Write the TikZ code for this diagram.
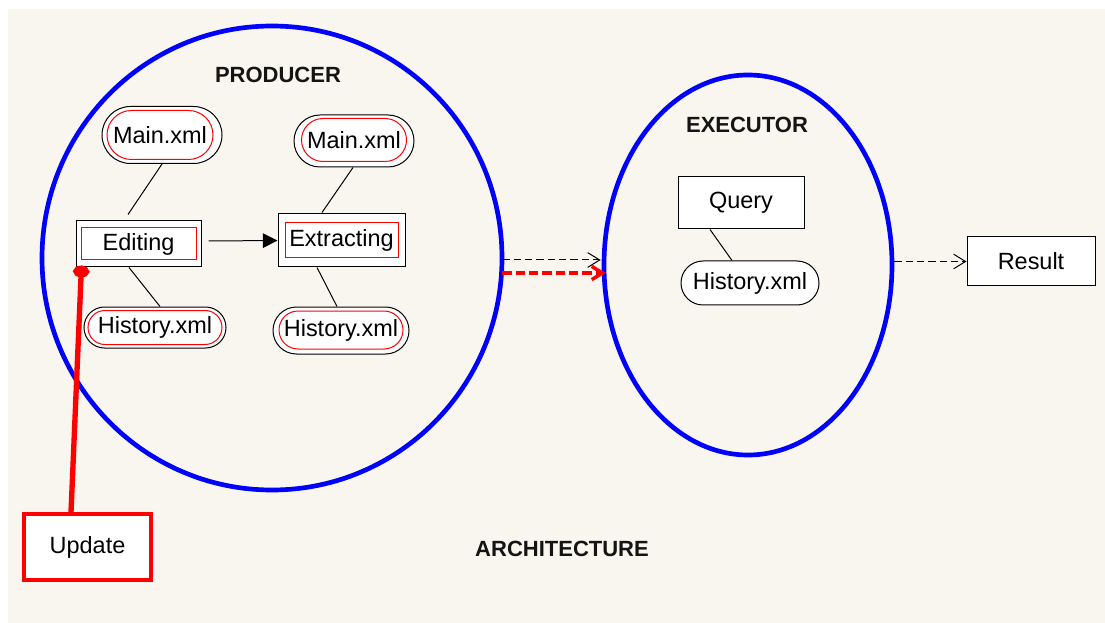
\documentclass[tikz,border=0pt]{standalone}
\usepackage{fontspec}
\setmainfont{Liberation Sans}
\usetikzlibrary{shapes.misc,shapes.geometric,arrows.meta,calc}
\newdimen\pxu \pxu=0.75pt
\definecolor{paper}{HTML}{F9F6F0}
\definecolor{ringblue}{HTML}{0000FF}
\definecolor{linkred}{HTML}{FF0000}
\begin{document}
\begin{tikzpicture}[x=0.75pt,y=-0.75pt,
  every node/.style={inner sep=0pt, font=\fontsize{17.6pt}{20pt}\selectfont},
  ring/.style={ellipse, draw=ringblue, line width=3.5pt},
  title/.style={font=\fontsize{16.5pt}{19pt}\selectfont\bfseries, text=black!92},
  filebox/.style={rounded rectangle, draw=black, line width=0.75pt, fill=white},
  fileinner/.style={rounded rectangle, draw=linkred, line width=0.75pt},
  taskbox/.style={rectangle, draw=black, line width=0.75pt, fill=white},
  taskinner/.style={rectangle, draw=linkred, line width=0.75pt},
  link/.style={draw=black, line width=0.75pt},
  flow/.style={draw=black, line width=0.75pt, dash pattern=on 5.5pt off 3pt,
    -{Straight Barb[length=9pt,width=11pt]}},
  hotflow/.style={draw=linkred, line width=2.6pt, dash pattern=on 7pt off 3pt,
    -{Straight Barb[length=8pt,width=10pt]}},
]
% page and paper
\fill[white] (0,0) rectangle (1105,623);
\fill[paper] (8,9) rectangle (1105,623);
\useasboundingbox (0,0) rectangle (1105,623);

% the two stages
\node[ring, minimum width=460\pxu, minimum height=464\pxu] (prod) at (272,258) {};
\node[ring, minimum width=288\pxu, minimum height=380\pxu] (exe) at (748,265) {};
\node[title] (prodlbl) at (278,75) {PRODUCER};
\node[title] (exelbl) at (747,125) {EXECUTOR};
\node[title] (archlbl) at (562,549) {ARCHITECTURE};

% producer files and tasks
\node[filebox, minimum width=120\pxu, minimum height=57\pxu] (m1) at (162,135) {};
\node[fileinner, minimum width=106\pxu, minimum height=49\pxu] (m1in) at (160,135) {Main.xml};
\node[filebox, minimum width=120\pxu, minimum height=52\pxu] (m2) at (354,141) {};
\node[fileinner, minimum width=105\pxu, minimum height=43\pxu] (m2in) at (354,140) {Main.xml};
\node[filebox, minimum width=142\pxu, minimum height=41\pxu] (h1) at (155,327.5) {};
\node[fileinner, minimum width=134\pxu, minimum height=34\pxu] (h1in) at (155,327.5) {History.xml};
\node[filebox, minimum width=136\pxu, minimum height=47\pxu] (h2) at (341,330.5) {};
\node[fileinner, minimum width=124\pxu, minimum height=38\pxu] (h2in) at (341,330) {History.xml};

\node[taskbox, minimum width=125\pxu, minimum height=46\pxu] (ed) at (138.5,244) {};
\node[taskinner, minimum width=115\pxu, minimum height=32\pxu] (edin) at (138.5,244) {Editing};
\node[taskbox, minimum width=127\pxu, minimum height=53\pxu] (ex) at (341.5,240.5) {};
\node[taskinner, minimum width=113\pxu, minimum height=35\pxu] (exin) at (341.5,240.5) {Extracting};

% executor contents
\node[taskbox, minimum width=126\pxu, minimum height=52\pxu] (q) at (741,203) {Query};
\node[filebox, minimum width=138\pxu, minimum height=44\pxu] (h3) at (750,283) {History.xml};

% outside boxes
\node[taskbox, minimum width=128\pxu, minimum height=49\pxu] (res) at (1031,261.5) {Result};
\node[taskbox, draw=linkred, line width=2.4pt, minimum width=127\pxu, minimum height=66\pxu] (upd) at (87.5,547) {Update};

% links inside the producer
\draw[link] (m1.south) -- ($(ed.north)+(-10.5,-6)$);
\draw[link] ($(ed.south)+(-9.5,0)$) -- ($(h1.north)+(5,0)$);
\draw[link] ($(m2.south)+(-1,0)$) -- ($(ex.north)+(-19.5,-1)$);
\draw[link] ($(ex.south)+(-24.5,0)$) -- ($(h2.north)+(-4,0)$);
\draw[link, -{Triangle[length=11pt,width=11pt]}] ($(ed.east)+(7,-3)$) -- (ex.west);

% link inside the executor
\draw[link] ($(q.south)+(-31,0)$) -- ($(h3.north)+(-18,0)$);

% flows between stages
\draw[flow] ($(prod.east)+(-2,2)$) -- ($(exe.west)+(-1,-5)$);
\draw[hotflow] ($(prod.east)+(-2,15)$) -- ($(exe.west)+(4,8)$);
\draw[flow] ($(exe.east)+(0,-3.5)$) -- (res.west);

% update feed
\draw[draw=linkred, line width=4pt, -{Circle[length=9pt,width=12pt]}]
  ($(upd.north)+(-16.5,0)$) -- ($(ed.south west)+(6,-2)$);
\end{tikzpicture}
\end{document}
